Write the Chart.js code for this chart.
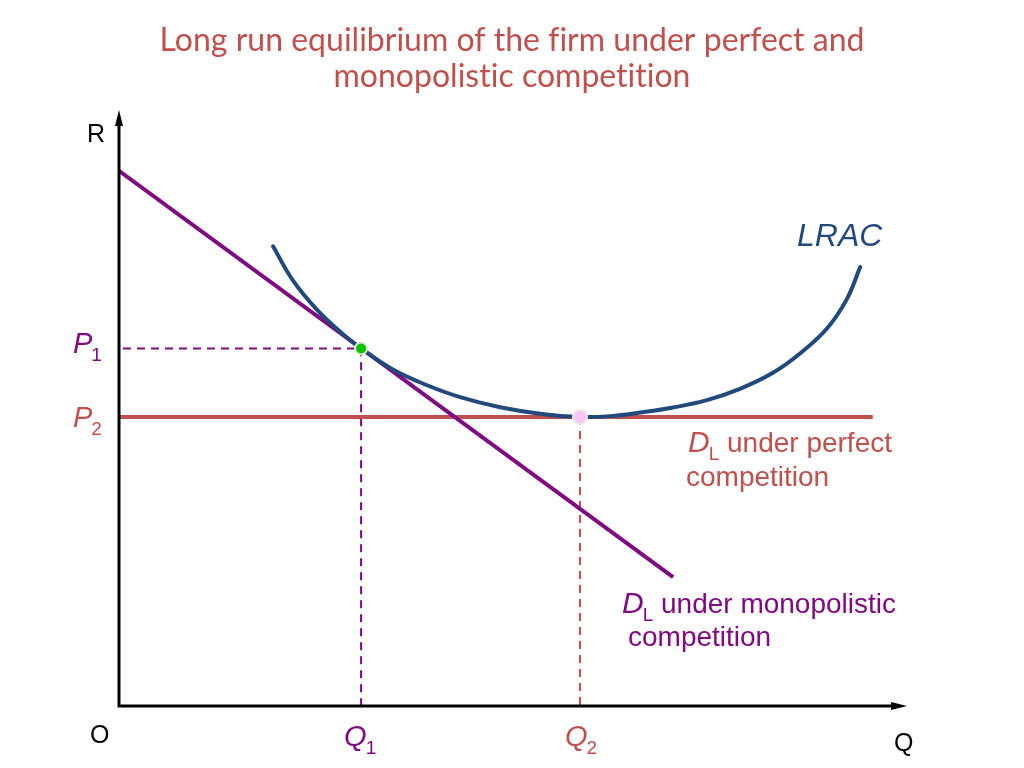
<!DOCTYPE html>
<html>
<head>
<meta charset="utf-8">
<script src="https://cdn.jsdelivr.net/npm/chart.js@4.4.0/dist/chart.umd.min.js"></script>
<style>
  html, body { margin: 0; padding: 0; background: #fff; }
  #wrap { width: 1024px; height: 768px; position: relative; }
</style>
</head>
<body>
<div id="wrap"><canvas id="grafica"></canvas></div>
<script>
// valores (ejes 0..100)
var titulo = ["Long run equilibrium of the firm under perfect and", "monopolistic competition"];
var q1 = 30.8, q2 = 58.65;
var p1 = 60.2, p2 = 48.65;

var demandaMonoX = [0, 70.5];
var demandaMonoY = [90.1, 21.7];

var demandaPerfX = [0, 95.9];
var demandaPerfY = [p2, p2];

var lracX = [19.6, 22.1, 25.2, 28.5, 30.8, 34.9, 39.2, 43.4, 48.5, 53.6, 58.65, 62.5, 66.3, 70.5, 74.8, 79.0, 83.2, 86.6, 90.1, 92.6, 94.3];
var lracY = [77.4, 71.7, 66.7, 62.6, 60.2, 56.6, 54.0, 52.0, 50.3, 49.2, 48.65, 48.8, 49.4, 50.25, 51.5, 53.4, 56.1, 59.3, 63.6, 68.5, 73.9];

function puntos(xs, ys) {
  var out = [];
  for (var i = 0; i < xs.length; i++) out.push({x: xs[i], y: ys[i]});
  return out;
}

var morado = "#7f0a80";
var rojo = "#c0504d";
var azul = "#22497c";

// texto con subindice
function textoSub(ctx, x, y, base, sub, color, size, subSize, italic) {
  ctx.fillStyle = color;
  ctx.textBaseline = "alphabetic";
  ctx.textAlign = "left";
  ctx.font = (italic ? "italic " : "") + size + "px 'Liberation Sans', Arial, sans-serif";
  ctx.fillText(base, x, y);
  var w = ctx.measureText(base).width;
  ctx.font = subSize + "px 'Liberation Sans', Arial, sans-serif";
  ctx.fillText(sub, x + w - 1, y + 8);
  return x + w - 1 + ctx.measureText(sub).width;
}

var dibujoExtra = {
  id: "dibujoExtra",
  afterDraw: function(chart) {
    var ctx = chart.ctx;
    var a = chart.chartArea;
    var sx = chart.scales.x, sy = chart.scales.y;
    ctx.save();

    // titulo
    ctx.fillStyle = rojo;
    ctx.font = "32px Lato, 'Open Sans', sans-serif";
    ctx.letterSpacing = "0.01px";
    ctx.textAlign = "center";
    ctx.textBaseline = "middle";
    ctx.fillText(titulo[0], 512, 41);
    ctx.fillText(titulo[1], 512, 77);
    ctx.letterSpacing = "0px";

    // ejes con flecha
    ctx.strokeStyle = "#000";
    ctx.fillStyle = "#000";
    ctx.lineWidth = 3;
    ctx.beginPath();
    ctx.moveTo(a.left, a.top + 8);
    ctx.lineTo(a.left, a.bottom);
    ctx.lineTo(a.right - 8, a.bottom);
    ctx.stroke();
    ctx.beginPath();
    ctx.moveTo(a.left, a.top - 2);
    ctx.lineTo(a.left - 4, a.top + 14);
    ctx.lineTo(a.left + 4, a.top + 14);
    ctx.closePath();
    ctx.fill();
    ctx.beginPath();
    ctx.moveTo(a.right + 2, a.bottom);
    ctx.lineTo(a.right - 14, a.bottom - 4);
    ctx.lineTo(a.right - 14, a.bottom + 4);
    ctx.closePath();
    ctx.fill();

    ctx.font = "25px 'Liberation Sans', Arial, sans-serif";
    ctx.textAlign = "left";
    ctx.textBaseline = "alphabetic";
    ctx.fillText("R", 87, 142);
    ctx.fillText("O", 90, 743);
    ctx.fillText("Q", 894, 751);

    // etiquetas de precio y cantidad
    textoSub(ctx, 73, sy.getPixelForValue(p1) + 5, "P", "1", morado, 29, 19, true);
    textoSub(ctx, 73, sy.getPixelForValue(p2) + 10, "P", "2", rojo, 29, 19, true);
    textoSub(ctx, sx.getPixelForValue(q1) - 17, 746, "Q", "1", morado, 29, 19, true);
    textoSub(ctx, sx.getPixelForValue(q2) - 15, 746, "Q", "2", rojo, 29, 19, true);

    // LRAC
    ctx.fillStyle = azul;
    ctx.font = "italic 32px 'Liberation Sans', Arial, sans-serif";
    ctx.textAlign = "left";
    ctx.fillText("LRAC", 797, 246);

    // curvas de demanda
    var fin = textoSub(ctx, 688, 452, "D", "L", rojo, 30, 19, true);
    ctx.font = "28px 'Liberation Sans', Arial, sans-serif";
    ctx.fillText(" under perfect", fin, 452);
    ctx.fillText("competition", 686, 486);

    fin = textoSub(ctx, 622, 613, "D", "L", morado, 30, 19, true);
    ctx.font = "28px 'Liberation Sans', Arial, sans-serif";
    ctx.fillText(" under monopolistic", fin, 613);
    ctx.fillText("competition", 628, 646);

    ctx.restore();
  }
};

var ctx = document.getElementById("grafica").getContext("2d");
var grafica = new Chart(ctx, {
  type: "scatter",
  data: {
    datasets: [
      {
        data: [{x: q1, y: p1}],
        pointRadius: 6,
        pointBackgroundColor: "#00c400",
        pointBorderColor: "#dff2d0",
        pointBorderWidth: 2,
        order: 0
      },
      {
        data: [{x: q2, y: p2}],
        pointRadius: 7,
        pointBackgroundColor: "#f7c6f5",
        pointBorderColor: "#f4e6ea",
        pointBorderWidth: 2,
        order: 0
      },
      {
        data: puntos(lracX, lracY),
        showLine: true,
        borderColor: azul,
        borderWidth: 4,
        pointRadius: 0,
        tension: 0.4,
        borderCapStyle: "round",
        order: 1
      },
      {
        data: puntos(demandaMonoX, demandaMonoY),
        showLine: true,
        borderColor: morado,
        borderWidth: 4,
        pointRadius: 0,
        order: 2
      },
      {
        data: puntos(demandaPerfX, demandaPerfY),
        showLine: true,
        borderColor: rojo,
        borderWidth: 4,
        pointRadius: 0,
        order: 3
      },
      {
        data: [{x: 0.5, y: p1}, {x: q1, y: p1}, {x: q1, y: 0}],
        showLine: true,
        borderColor: morado,
        borderWidth: 2,
        borderDash: [8, 6],
        pointRadius: 0,
        order: 4
      },
      {
        data: [{x: q2, y: p2}, {x: q2, y: 0}],
        showLine: true,
        borderColor: rojo,
        borderWidth: 2,
        borderDash: [8, 6],
        pointRadius: 0,
        order: 4
      }
    ]
  },
  options: {
    responsive: true,
    maintainAspectRatio: false,
    animation: false,
    layout: { padding: { left: 119, right: 119, top: 112, bottom: 62 } },
    plugins: { legend: { display: false }, tooltip: { enabled: false }, title: { display: false } },
    scales: {
      x: { type: "linear", min: 0, max: 100, display: false },
      y: { type: "linear", min: 0, max: 100, display: false }
    }
  },
  plugins: [dibujoExtra]
});
</script>
</body>
</html>
